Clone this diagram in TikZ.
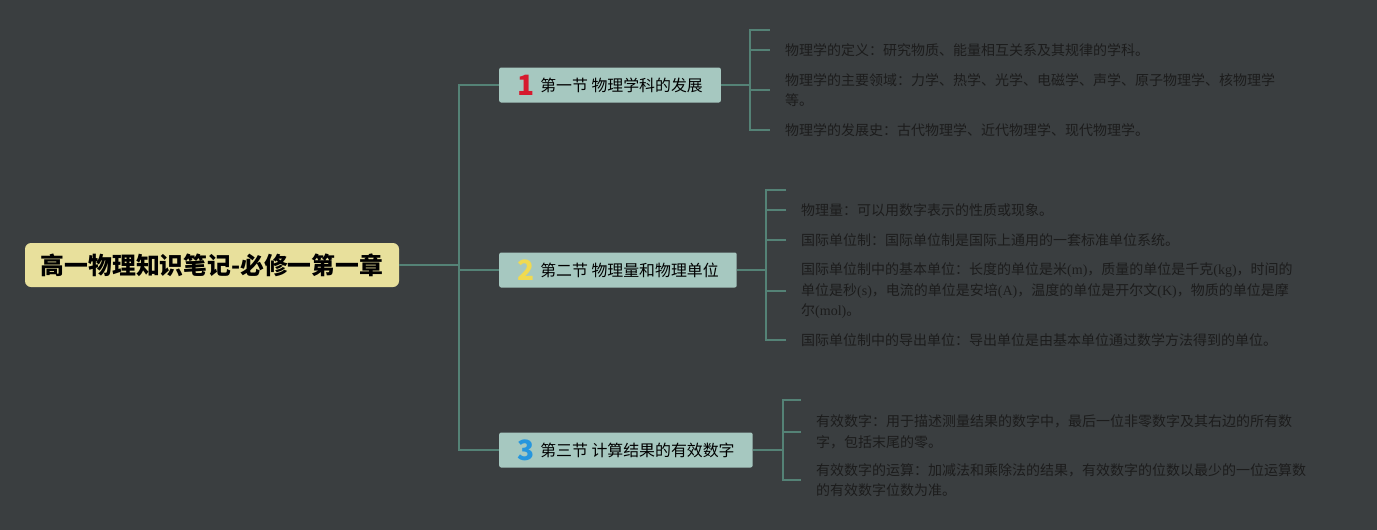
\documentclass[tikz,border=0pt]{standalone}
\usepackage{fontspec}
\setmainfont{Noto Sans CJK SC}
\newfontfamily\latinserif{Liberation Serif}
\usepackage{xcolor}
\usepackage{tikz}
\usetikzlibrary{positioning}
\definecolor{bgdark}{RGB}{58,62,64}
\definecolor{linkteal}{RGB}{84,130,118}
\definecolor{rootyellow}{RGB}{232,224,156}
\definecolor{secteal}{RGB}{166,200,192}
\definecolor{leafink}{RGB}{28,28,28}
\definecolor{numred}{RGB}{214,26,46}
\definecolor{numyellow}{RGB}{240,218,80}
\definecolor{numblue}{RGB}{38,150,222}
\newcommand{\secnum}[2]{\smash{\raisebox{-4pt}{\fontsize{28}{28}\selectfont\bfseries\color{#1}#2}}\hspace{6pt}}
\newcommand{\lat}[1]{{\latinserif #1}}

\begin{document}
\begin{tikzpicture}[x=1pt, y=-1pt,
    link/.style={line width=1.4pt, color=linkteal},
    roottopic/.style={rectangle, rounded corners=6pt, fill=rootyellow, text=black, minimum width=374pt, minimum height=44pt, font=\fontsize{23.8}{24}\selectfont\bfseries},
    sectbox/.style={rectangle, rounded corners=2pt, fill=secteal, text=black, anchor=west, minimum height=35pt, inner xsep=18pt, font=\fontsize{15.9}{18}\selectfont},
    leafnote/.style={anchor=west, inner xsep=15pt, inner ysep=0pt, align=left, text=leafink, font=\fontsize{14}{20.5}\selectfont}]
    % Background
    \fill[bgdark] (0,0) rectangle (1377,530);

    % Central topic
    \node[roottopic] (root) at (212,265) {高一物理知识笔记-必修一第一章};

    % Sections
    \node[sectbox] (sec1) at (499,85) {\secnum{numred}{1}第一节 物理学科的发展};
    \node[sectbox] (sec2) at (499,270) {\secnum{numyellow}{2}第二节 物理量和物理单位};
    \node[sectbox] (sec3) at (499,450) {\secnum{numblue}{3}第三节 计算结果的有效数字};

    % Forks
    \coordinate (trunk) at (459,265);
    \coordinate (fork1) at (750,85);
    \coordinate (fork2) at (766,270);
    \coordinate (fork3) at (783,450);
    \coordinate (e1) at (770,30);
    \coordinate (e2) at (786,190);
    \coordinate (e3) at (801,400);

    % Notes of section 1
    \node[leafnote] (l1a) at (770,50) {物理学的定义：研究物质、能量相互关系及其规律的学科。};
    \node[leafnote] (l1b) at (770,90) {物理学的主要领域：力学、热学、光学、电磁学、声学、原子物理学、核物理学\\等。};
    \node[leafnote] (l1c) at (770,130) {物理学的发展史：古代物理学、近代物理学、现代物理学。};

    % Notes of section 2
    \node[leafnote] (l2a) at (786,210) {物理量：可以用数字表示的性质或现象。};
    \node[leafnote] (l2b) at (786,240) {国际单位制：国际单位制是国际上通用的一套标准单位系统。};
    \node[leafnote] (l2c) at (786,291) {国际单位制中的基本单位：长度的单位是米\lat{(m)}，质量的单位是千克\lat{(kg)}，时间的\\单位是秒\lat{(s)}，电流的单位是安培\lat{(A)}，温度的单位是开尔文\lat{(K)}，物质的单位是摩\\尔\lat{(mol)}。};
    \node[leafnote] (l2d) at (786,340) {国际单位制中的导出单位：导出单位是由基本单位通过数学方法得到的单位。};

    % Notes of section 3
    \node[leafnote] (l3a) at (801,432) {有效数字：用于描述测量结果的数字中，最后一位非零数字及其右边的所有数\\字，包括末尾的零。};
    \node[leafnote] (l3b) at (801,480) {有效数字的运算：加减法和乘除法的结果，有效数字的位数以最少的一位运算数\\的有效数字位数为准。};

    % Connections
    \draw[link] (root.east) -- (trunk);
    \foreach \s in {sec1,sec2,sec3}
        \draw[link] (trunk) |- (\s.west);
    \draw[link] (sec1.east) -- (fork1);
    \draw[link] (sec2.east) -- (fork2);
    \draw[link] (sec3.east) -- (fork3);
    \draw[link] (fork1) |- (e1);
    \draw[link] (fork2) |- (e2);
    \draw[link] (fork3) |- (e3);
    \foreach \l in {l1a,l1b,l1c}
        \draw[link] (fork1) |- (\l.west);
    \foreach \l in {l2a,l2b,l2c,l2d}
        \draw[link] (fork2) |- (\l.west);
    \foreach \l in {l3a,l3b}
        \draw[link] (fork3) |- (\l.west);
\end{tikzpicture}
\end{document}
